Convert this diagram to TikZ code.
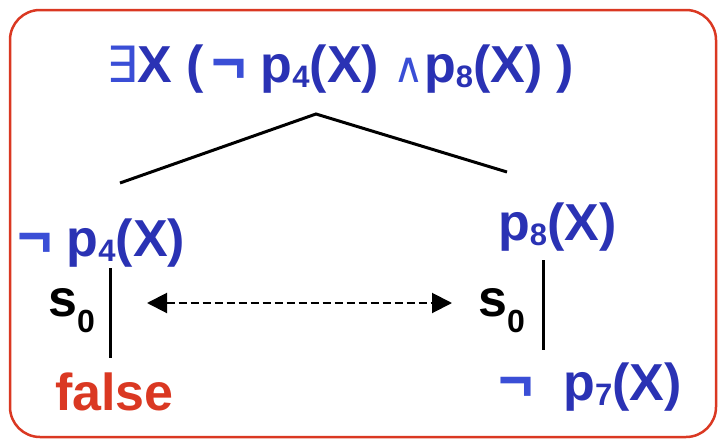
\documentclass[tikz,border=0pt]{standalone}
\usepackage{fontspec}
\setmainfont{Liberation Sans}
\newfontfamily\symfont{DejaVu Sans}
\usetikzlibrary{arrows.meta}
\definecolor{tblue}{RGB}{42,50,180}
\definecolor{sblue}{RGB}{58,78,214}
\definecolor{tred}{RGB}{218,56,34}
\newcommand{\exsym}{{\symfont\mdseries\fontsize{50}{56}\selectfont\color{sblue}∃}}
\newcommand{\andsym}{{\symfont\mdseries\fontsize{42}{46}\selectfont\color{sblue}∧}}
\newcommand{\negsym}{{\fontsize{60}{60}\selectfont\color{sblue}¬}}
\newcommand{\sbx}[1]{\raisebox{-0.1em}{\fontsize{31}{34}\selectfont #1}}
\newcommand{\ssbx}[1]{\raisebox{-16pt}{\fontsize{32}{34}\selectfont #1}}
\tikzset{
  lbl/.style={inner sep=0pt, anchor=base west, font=\fontsize{52}{56}\selectfont\bfseries},
  bluelbl/.style={lbl, text=tblue},
  edge/.style={line width=3pt, black},
}
\begin{document}
\begin{tikzpicture}[x=1pt,y=-1pt]
\useasboundingbox (0,0) rectangle (718,439);
\draw[tred, line width=2.5pt, rounded corners=30pt] (10,10) rectangle (716,437);
\node[bluelbl] (top) at (106,82) {\exsym X (\hspace{7pt}\negsym\ p\sbx{4}(X) \andsym p\sbx{8}(X) )};
\node[bluelbl] (lft) at (17,256) {\negsym\ p\sbx{4}(X)};
\node[bluelbl] (rgt) at (498,240) {p\sbx{8}(X)};
\node[lbl] (s0l) at (48,316) {s\ssbx{0}};
\node[lbl] (s0r) at (478,316) {s\ssbx{0}};
\node[lbl, text=tred] (fls) at (55,410) {false};
\node[bluelbl] (p7) at (498,400) {\negsym\hspace{30pt}p\sbx{7}(X)};
\coordinate (apex) at (316,114);
\coordinate (tl) at (120,183);
\coordinate (tr) at (507,172);
\coordinate (la) at (110,268);
\coordinate (lb) at (110,358);
\coordinate (ra) at (543,260);
\coordinate (rb) at (543,350);
\coordinate (da) at (147,303);
\coordinate (db) at (452,303);
\draw[edge] (tl) -- (apex) -- (tr);
\draw[edge] (la) -- (lb);
\draw[edge] (ra) -- (rb);
\draw[line width=2pt, dash pattern=on 8pt off 4pt, {Triangle[length=20pt,width=20pt]}-{Triangle[length=20pt,width=20pt]}] (da) -- (db);
\end{tikzpicture}
\end{document}
